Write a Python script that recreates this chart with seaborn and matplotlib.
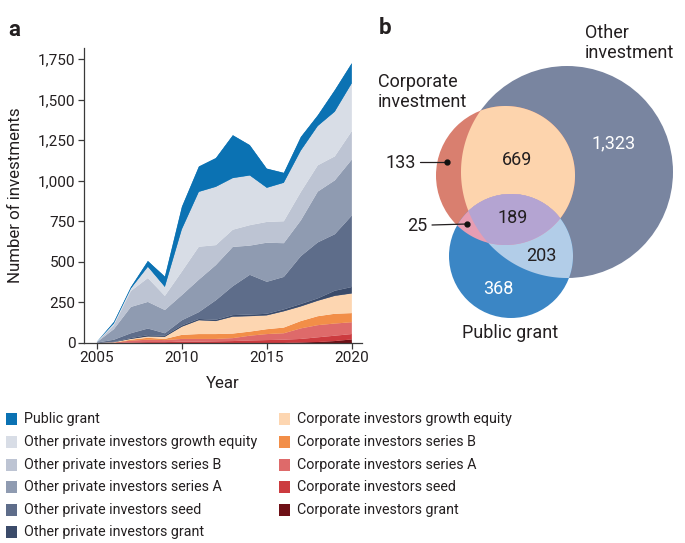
import numpy as np
import pandas as pd
import matplotlib
matplotlib.use("Agg")
import matplotlib.pyplot as plt
from matplotlib.patches import Circle, Polygon, Rectangle
from matplotlib.ticker import FuncFormatter
import seaborn as sns
import seaborn.objects as so

# ---------------- data (panel a) ----------------
years = list(range(2005, 2021))
corp_grant = [0, 0, 0, 0, 0, 0, 0, 0, 0, 0, 0, 0, 3, 6, 12, 22]
corp_seed = [0, 0, 3, 5, 5, 8, 8, 10, 12, 15, 18, 20, 22, 29, 33, 33]
corp_series_a = [0, 2, 12, 15, 13, 17, 17, 15, 18, 30, 37, 40, 65, 75, 75, 73]
corp_series_b = [0, 1, 5, 12, 7, 25, 30, 30, 28, 25, 30, 35, 45, 55, 60, 56]
corp_growth = [0, 2, 5, 8, 13, 50, 85, 80, 104, 95, 85, 100, 90, 95, 110, 121]
other_grant = [0, 2, 5, 8, 7, 8, 8, 8, 10, 10, 10, 12, 15, 15, 32, 40]
other_seed = [2, 13, 30, 41, 15, 32, 42, 120, 178, 245, 197, 200, 295, 345, 348, 440]
other_series_a = [3, 65, 162, 164, 143, 155, 200, 217, 242, 180, 241, 208, 220, 313, 332, 345]
other_series_b = [1, 25, 98, 147, 87, 145, 203, 123, 106, 126, 128, 135, 175, 162, 148, 175]
other_growth = [1, 10, 15, 69, 55, 260, 338, 359, 318, 306, 210, 237, 255, 242, 275, 295]
public_grant = [1, 10, 10, 37, 65, 140, 157, 178, 265, 188, 119, 62, 85, 67, 134, 125]

# stacking order: bottom -> top
series_names = [
    "Corporate investors grant",
    "Corporate investors seed",
    "Corporate investors series A",
    "Corporate investors series B",
    "Corporate investors growth equity",
    "Other private investors grant",
    "Other private investors seed",
    "Other private investors series A",
    "Other private investors series B",
    "Other private investors growth equity",
    "Public grant",
]
series_values = [corp_grant, corp_seed, corp_series_a, corp_series_b, corp_growth,
                 other_grant, other_seed, other_series_a, other_series_b,
                 other_growth, public_grant]
series_colors = [
    "#6e1016", "#cc3b3f", "#de6a6a", "#f28e48", "#fdd6b1",
    "#3b4b6a", "#5e6d8a", "#8f9bb1", "#bdc4d3", "#d8dde6",
    "#0b72b3",
]
legend_left = [
    "Public grant",
    "Other private investors growth equity",
    "Other private investors series B",
    "Other private investors series A",
    "Other private investors seed",
    "Other private investors grant",
]
legend_right = [
    "Corporate investors growth equity",
    "Corporate investors series B",
    "Corporate investors series A",
    "Corporate investors seed",
    "Corporate investors grant",
]
y_ticks = [0, 250, 500, 750, 1000, 1250, 1500, 1750]
x_ticks = [2005, 2010, 2015, 2020]

# ---------------- data (panel b) ----------------
venn_set_labels = ["Other\ninvestment", "Corporate\ninvestment", "Public grant"]
venn_other_only = 1323
venn_corp_other = 669
venn_all_three = 189
venn_public_other = 203
venn_public_only = 368
venn_corp_only = 133
venn_corp_public = 25

# ---------------- style ----------------
sns.set_theme(style="ticks")
FONT = ["Roboto", "DejaVu Sans"]
plt.rcParams["font.family"] = FONT
TXT = "#231f20"

W, H = 685, 543
fig = plt.figure(figsize=(W / 100, H / 100), dpi=100)

# panel a axes (pixel-based placement)
ax_l, ax_r, ax_t, ax_b = 84, 362, 48, 343
ax = fig.add_axes([ax_l / W, 1 - ax_b / H, (ax_r - ax_l) / W, (ax_b - ax_t) / H])

df = pd.DataFrame(
    [(y, v, name) for name, vals in zip(series_names, series_values)
     for y, v in zip(years, vals)],
    columns=["year", "count", "series"],
)
palette = dict(zip(series_names, series_colors))
theme_rc = {**sns.axes_style("ticks"), "font.family": FONT}

(
    so.Plot(df, x="year", y="count", color="series")
    .add(so.Area(alpha=1, edgewidth=0.4), so.Stack(), legend=False)
    .scale(color=so.Nominal(palette, order=series_names))
    .theme(theme_rc)
    .on(ax)
    .plot()
)

ax.set_facecolor("white")
ax.grid(False)
ax.set_xlim(2004.24, 2020.6)
ax.set_ylim(0, 1818)
ax.set_xticks(x_ticks)
ax.set_xticklabels([str(x) for x in x_ticks])
ax.set_yticks(y_ticks)
ax.yaxis.set_major_formatter(FuncFormatter(lambda v, p: f"{int(v):,}"))
for s in ["top", "right"]:
    ax.spines[s].set_visible(False)
for s in ["left", "bottom"]:
    ax.spines[s].set_color("#3a3a3a")
    ax.spines[s].set_linewidth(0.9)
ax.tick_params(axis="both", direction="out", length=4, width=0.9,
               color="#3a3a3a", labelsize=11, labelcolor=TXT, pad=2)
ax.set_xlabel("Year", fontsize=12.2, color=TXT)
ax.set_ylabel("Number of investments", fontsize=12.2, color=TXT)
ax.xaxis.set_label_coords(0.5, -(383 - ax_b) / (ax_b - ax_t))
ax.xaxis.label.set_va("center")
ax.yaxis.set_label_coords(-(ax_l - 16) / (ax_r - ax_l), 0.5)
ax.yaxis.label.set_va("center")

# ---------------- overlay in pixel coordinates ----------------
ov = fig.add_axes([0, 0, 1, 1], zorder=-1)
ov.set_xlim(0, W)
ov.set_ylim(H, 0)
ov.axis("off")

fig.text(8 / W, 1 - 30 / H, "a", fontsize=16, fontweight="bold", color=TXT,
         va="center", ha="left")
fig.text(379 / W, 1 - 28 / H, "b", fontsize=16, fontweight="bold", color=TXT,
         va="center", ha="left")

# legend
LFS = 10.3
row_y = [419, 442, 465, 487, 510, 532]
for i, name in enumerate(legend_left):
    c = palette[name]
    ov.add_patch(Rectangle((6, row_y[i] - 6), 11, 12, facecolor=c, edgecolor="none"))
    ov.text(24, row_y[i], name, fontsize=LFS, color=TXT, va="center", ha="left")
for i, name in enumerate(legend_right):
    c = palette[name]
    ov.add_patch(Rectangle((279, row_y[i] - 6), 11, 12, facecolor=c, edgecolor="none"))
    ov.text(297, row_y[i], name, fontsize=LFS, color=TXT, va="center", ha="left")

# ---------------- panel b: Venn ----------------
c_other = (567.0, 172.0, 106.0)
c_corp = (505.5, 175.5, 69.5)
c_public = (511.0, 256.0, 62.0)


def intersection(circles, n=3000):
    pts = []
    for i, (cx, cy, r) in enumerate(circles):
        t = np.linspace(0, 2 * np.pi, n, endpoint=False)
        p = np.c_[cx + r * np.cos(t), cy + r * np.sin(t)]
        mask = np.ones(len(p), bool)
        for j, (ox, oy, orr) in enumerate(circles):
            if j != i:
                mask &= (p[:, 0] - ox) ** 2 + (p[:, 1] - oy) ** 2 <= orr ** 2 + 1e-6
        pts.append(p[mask])
    pts = np.vstack(pts)
    cen = pts.mean(axis=0)
    ang = np.arctan2(pts[:, 1] - cen[1], pts[:, 0] - cen[0])
    return pts[np.argsort(ang)]


col_other = "#7985a0"
col_corp = "#d97f6f"
col_peach = "#fdd4ad"
col_public = "#3b86c5"
col_lblue = "#b2cde8"
col_pink = "#e79db3"
col_lav = "#b4a4d2"

ov.add_patch(Circle(c_other[:2], c_other[2], facecolor=col_other, edgecolor="none"))
ov.add_patch(Circle(c_corp[:2], c_corp[2], facecolor=col_corp, edgecolor="none"))
ov.add_patch(Polygon(intersection([c_corp, c_other]), closed=True,
                     facecolor=col_peach, edgecolor="none"))
ov.add_patch(Circle(c_public[:2], c_public[2], facecolor=col_public, edgecolor="none"))
ov.add_patch(Polygon(intersection([c_public, c_other]), closed=True,
                     facecolor=col_lblue, edgecolor="none"))
ov.add_patch(Polygon(intersection([c_public, c_corp]), closed=True,
                     facecolor=col_pink, edgecolor="none"))
ov.add_patch(Polygon(intersection([c_public, c_corp, c_other]), closed=True,
                     facecolor=col_lav, edgecolor="none"))

VFS = 13
ov.text(585, 43, venn_set_labels[0], fontsize=VFS, color=TXT, ha="left", va="center",
        linespacing=1.2)
ov.text(378, 92, venn_set_labels[1], fontsize=VFS, color=TXT, ha="left", va="center",
        linespacing=1.2)
ov.text(510, 333, venn_set_labels[2], fontsize=VFS, color=TXT, ha="center", va="center")

ov.text(614, 143, f"{venn_other_only:,}", fontsize=VFS, color="white", ha="center", va="center")
ov.text(517, 160, f"{venn_corp_other:,}", fontsize=VFS, color=TXT, ha="center", va="center")
ov.text(513, 218, f"{venn_all_three:,}", fontsize=VFS, color=TXT, ha="center", va="center")
ov.text(541, 256, f"{venn_public_other:,}", fontsize=VFS, color=TXT, ha="center", va="center")
ov.text(498, 289, f"{venn_public_only:,}", fontsize=VFS, color="white", ha="center", va="center")

# leader labels
ov.text(401, 163, f"{venn_corp_only:,}", fontsize=VFS, color=TXT, ha="center", va="center")
ov.plot([420, 447], [162, 162], color=TXT, lw=0.9)
ov.plot([447], [162], "o", color="#111111", ms=3.5)
ov.text(417, 226, f"{venn_corp_public:,}", fontsize=VFS, color=TXT, ha="center", va="center")
ov.plot([432, 467], [225, 224], color=TXT, lw=0.9)
ov.plot([467], [224], "o", color="#111111", ms=3.5)

fig.savefig("out.png", dpi=100, facecolor="white")
